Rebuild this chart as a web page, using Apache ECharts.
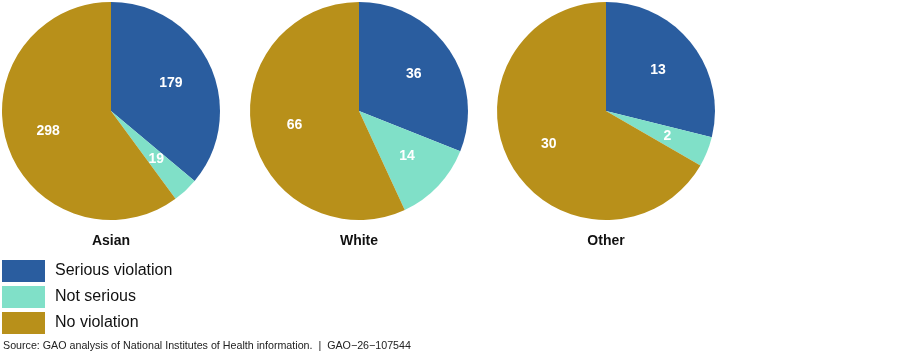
<!DOCTYPE html>
<html>
<head>
<meta charset="utf-8">
<script src="https://cdn.jsdelivr.net/npm/echarts@6/dist/echarts.min.js"></script>
<style>
html,body{margin:0;padding:0;background:#fff;}
#chart{width:900px;height:355px;}
</style>
</head>
<body>
<div id="chart"></div>
<script>
const categories = ['Serious violation', 'Not serious', 'No violation'];
const groups = ['Asian', 'White', 'Other'];
const asianValues = [179, 19, 298];
const whiteValues = [36, 14, 66];
const otherValues = [13, 2, 30];
const colors = ['#2a5d9f', '#80e0c8', '#b8901a'];
const sourceText = 'Source: GAO analysis of National Institutes of Health information.  |  GAO\u221226\u2212107544';

const allValues = [asianValues, whiteValues, otherValues];
const centersX = [111, 359, 606];
const centerY = 111;
const labelScale = 1.15;
const font = 'Liberation Sans, Arial, sans-serif';

const chart = echarts.init(document.getElementById('chart'), null, {renderer: 'canvas'});

const series = groups.map((g, gi) => ({
  type: 'pie',
  name: g,
  center: [centersX[gi], centerY],
  radius: [0, 109],
  startAngle: 90,
  clockwise: true,
  animation: false,
  silent: true,
  itemStyle: {borderWidth: 0},
  label: {
    show: true,
    position: 'inside',
    color: '#ffffff',
    fontFamily: font,
    fontWeight: 'bold',
    fontSize: 14,
    formatter: '{c}'
  },
  labelLine: {show: false},
  labelLayout: function (p) {
    const r = p.labelRect;
    const ax = r.x + r.width / 2, ay = r.y + r.height / 2;
    const cx = centersX[p.seriesIndex];
    return {x: cx + (ax - cx) * labelScale, y: centerY + (ay - centerY) * labelScale};
  },
  emphasis: {disabled: true},
  data: categories.map((c, ci) => ({name: c, value: allValues[gi][ci]}))
}));

const titles = groups.map((g, gi) => ({
  text: g,
  left: centersX[gi],
  top: 234,
  padding: 0,
  textAlign: 'center',
  textStyle: {fontFamily: font, fontWeight: 'bold', fontSize: 14, color: '#111'}
}));
titles.push({
  text: sourceText,
  left: 3,
  top: 341,
  padding: 0,
  textStyle: {fontFamily: font, fontWeight: 'normal', fontSize: 10.7, color: '#222'}
});

chart.setOption({
  backgroundColor: '#ffffff',
  color: colors,
  title: titles,
  legend: {
    orient: 'vertical',
    left: 2,
    top: 260,
    padding: 0,
    itemWidth: 43,
    itemHeight: 22,
    itemGap: 4,
    icon: 'rect',
    selectedMode: false,
    data: categories,
    textStyle: {fontFamily: font, fontSize: 16, color: '#111', padding: [0, 0, 0, 5]}
  },
  series: series
});
</script>
</body>
</html>
